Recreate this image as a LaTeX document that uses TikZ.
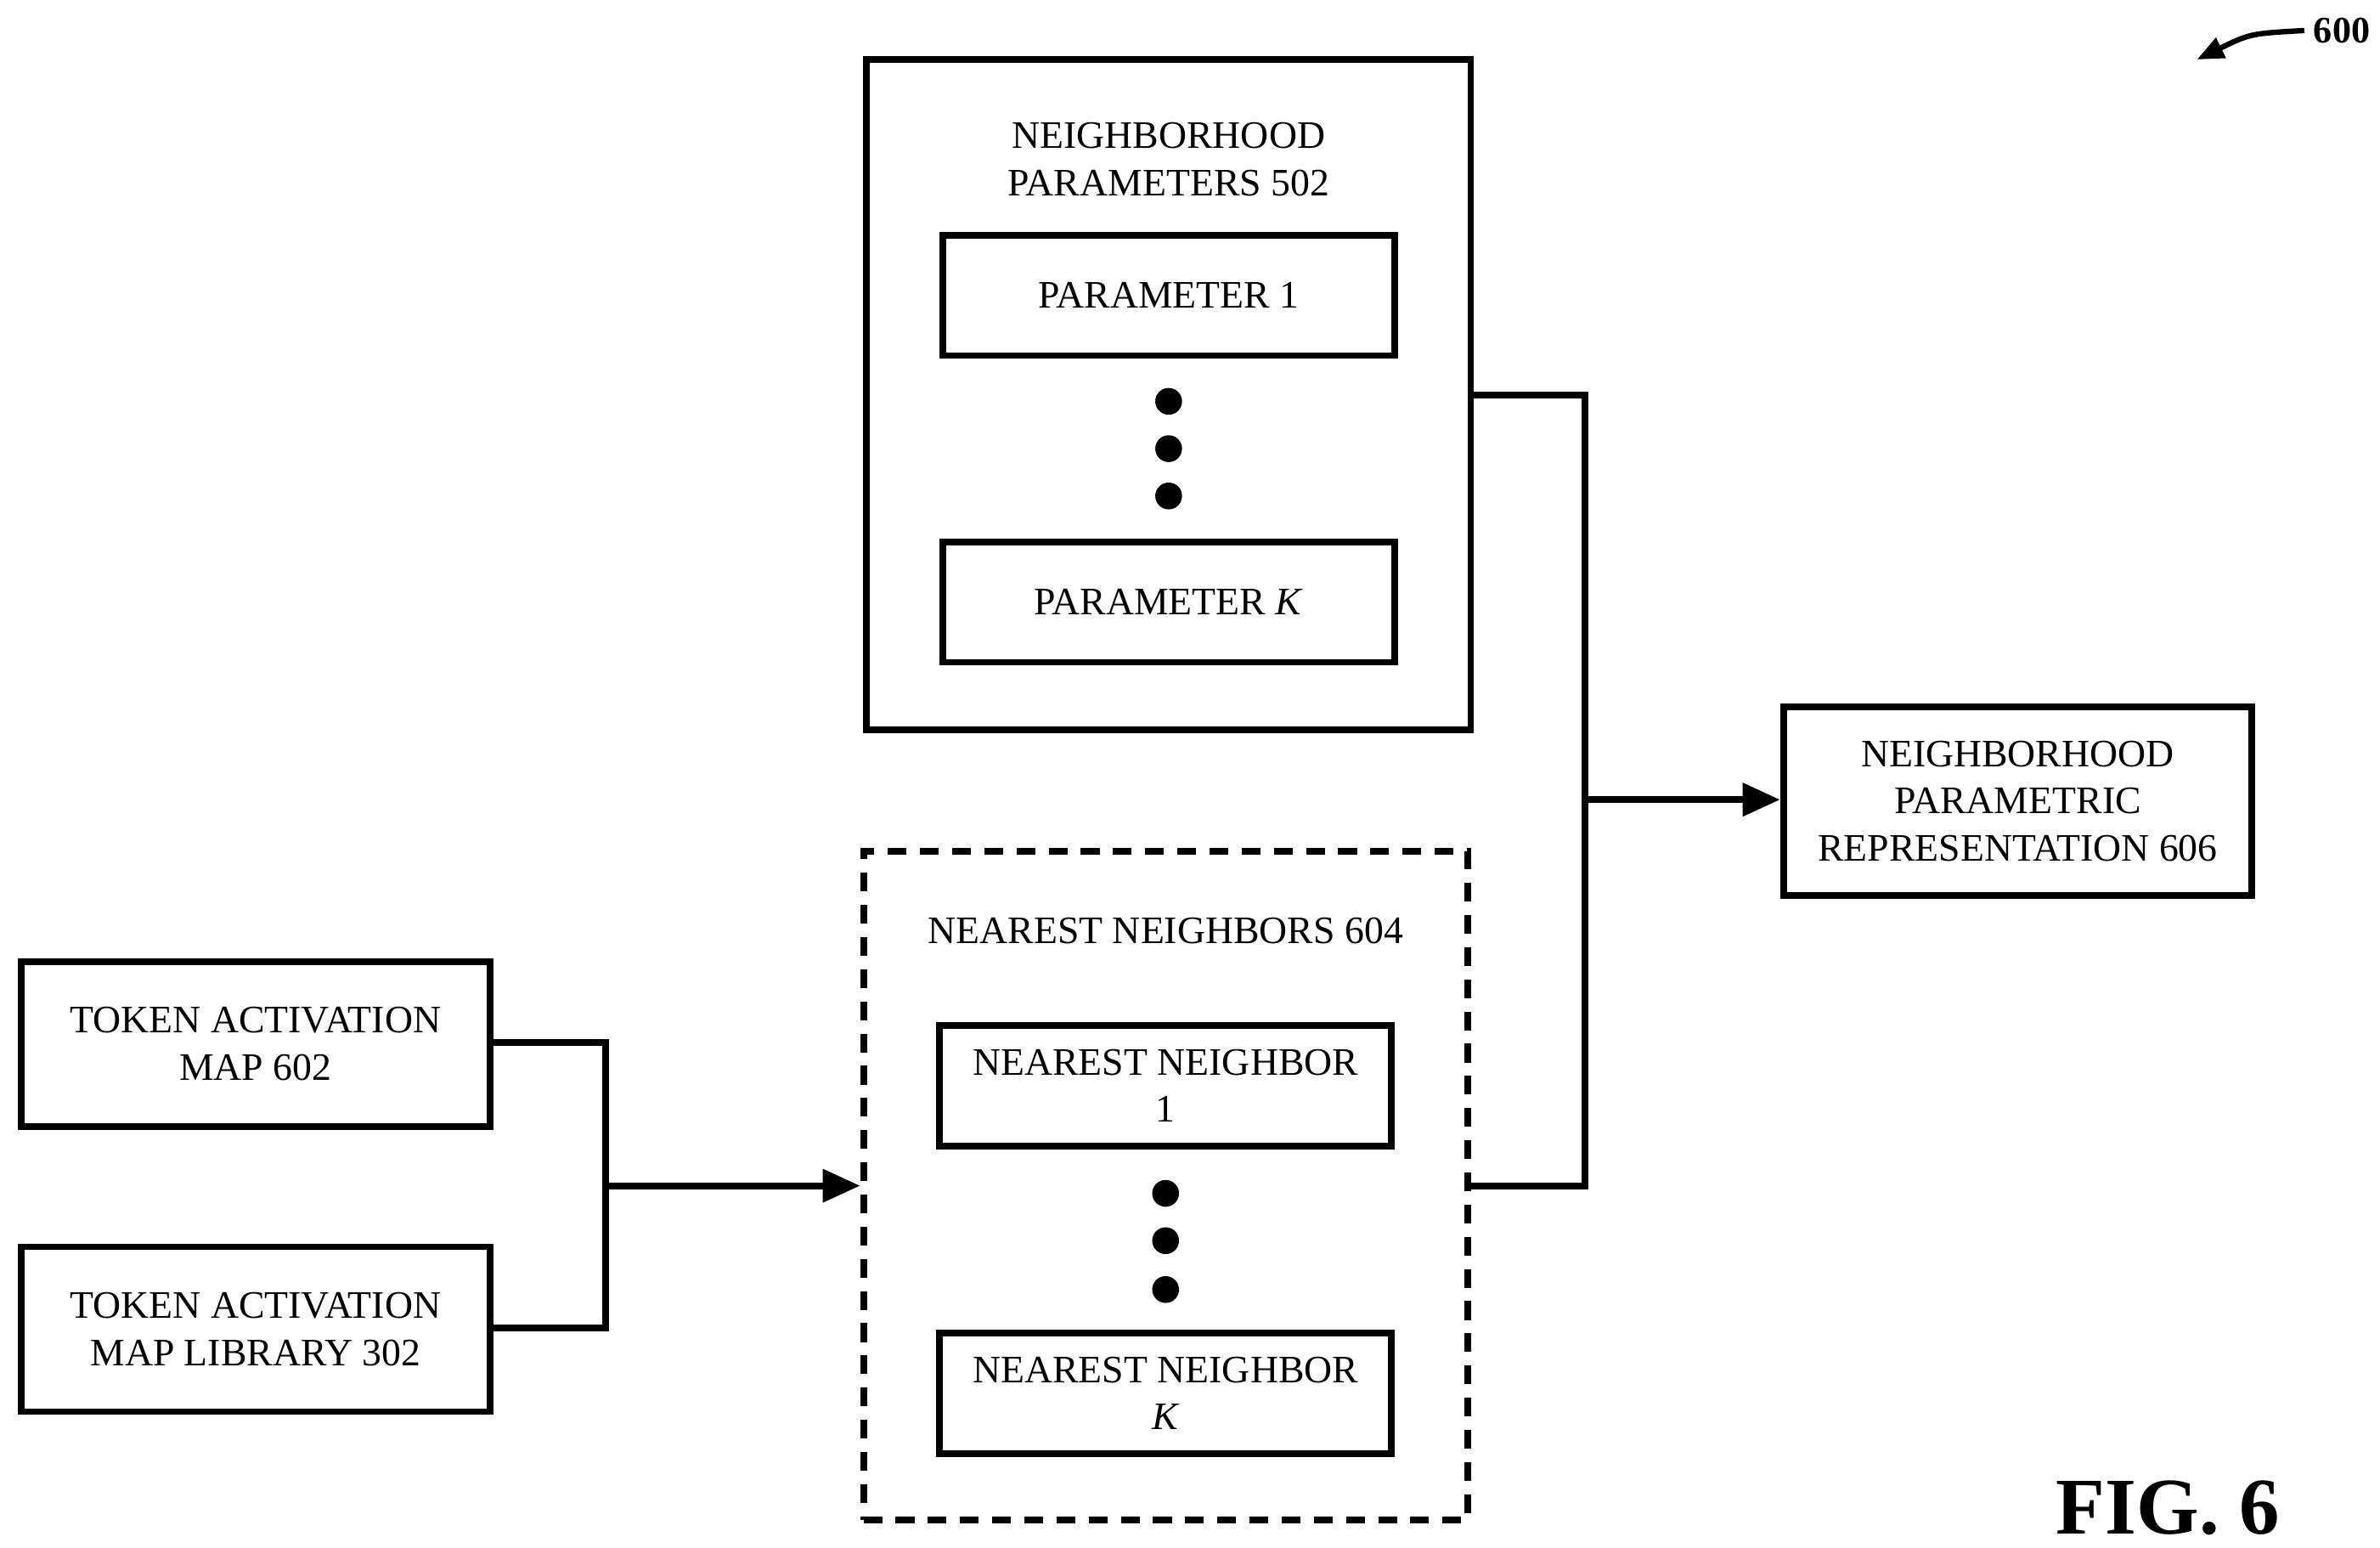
\documentclass[tikz,border=0pt]{standalone}
\usepackage{fontspec}
\setmainfont{Liberation Serif}
\usetikzlibrary{positioning,arrows.meta}
\tikzset{
  box/.style={draw,line width=2.5pt,align=center,inner sep=0pt,font=\fontsize{14.5}{17.6}\selectfont},
  frame/.style={draw,line width=2.5pt},
  label text/.style={align=center,font=\fontsize{14.5}{17.6}\selectfont},
  link/.style={line width=2.5pt},
  arrow/.style={line width=2.5pt,-{Triangle[length=14pt,width=12pt]}},
  dot/.style={circle,fill,inner sep=0pt,minimum size=10pt}
}
\begin{document}
\begin{tikzpicture}[x=0.02cm,y=-0.02cm]
  \useasboundingbox (0,0) rectangle (1560,1014);
  % neighborhood parameters
  \node[frame,minimum width=396*0.02cm,minimum height=439*0.02cm] (params) at (766,258.5) {};
  \node[label text] (paramstitle) at (766,104.5) {NEIGHBORHOOD\\PARAMETERS 502};
  \node[box,minimum width=296*0.02cm,minimum height=79*0.02cm] (par1) at (766,193.5) {PARAMETER 1};
  \node[box,minimum width=296*0.02cm,minimum height=79*0.02cm] (park) at (766,394.5) {PARAMETER \textit{K}};
  \foreach \y [count=\i] in {263,294,325} \node[dot] (pdot\i) at (766,\y) {};
  % nearest neighbors
  \node[frame,dashed,dash pattern=on 7pt off 5pt,minimum width=396*0.02cm,minimum height=438*0.02cm] (nn) at (764,777) {};
  \node[label text] (nntitle) at (764,610) {NEAREST NEIGHBORS 604};
  \node[box,minimum width=296*0.02cm,minimum height=79*0.02cm] (nn1) at (764,711.5) {NEAREST NEIGHBOR\\1};
  \node[box,minimum width=296*0.02cm,minimum height=79*0.02cm] (nnk) at (764,913) {NEAREST NEIGHBOR\\\textit{K}};
  \foreach \y [count=\i] in {782,813,845} \node[dot] (ndot\i) at (764,\y) {};
  % inputs
  \node[box,minimum width=307*0.02cm,minimum height=108*0.02cm] (tam) at (167.5,684) {TOKEN ACTIVATION\\MAP 602};
  \node[box,minimum width=307*0.02cm,minimum height=108*0.02cm] (taml) at (167.5,871) {TOKEN ACTIVATION\\MAP LIBRARY 302};
  % output
  \node[box,minimum width=307*0.02cm,minimum height=124*0.02cm] (npr) at (1322.5,525) {NEIGHBORHOOD\\PARAMETRIC\\REPRESENTATION 606};
  % connectors
  \coordinate (join1) at (397,777);
  \coordinate (join2) at (1039,524);
  \draw[link] (tam.east |- 0,683) -| (join1) |- (taml.east |- 0,870);
  \draw[arrow] (join1) -- (nn.west |- join1);
  \draw[link] (params.east |- 0,259) -| (join2) |- (nn.east |- 0,777);
  \draw[arrow] (join2) -- (npr.west |- join2);
  % figure labels
  \node[font=\bfseries\fontsize{14}{16}\selectfont] (ref) at (1535,20) {600};
  \coordinate (refend) at (1440,39);
  \draw[line width=2pt,-{Triangle[length=10pt,width=8pt]}] (ref.west) .. controls (1475,22) .. (refend);
  \node[font=\bfseries\fontsize{30}{36}\selectfont] (fig) at (1421,988) {FIG. 6};
\end{tikzpicture}
\end{document}
